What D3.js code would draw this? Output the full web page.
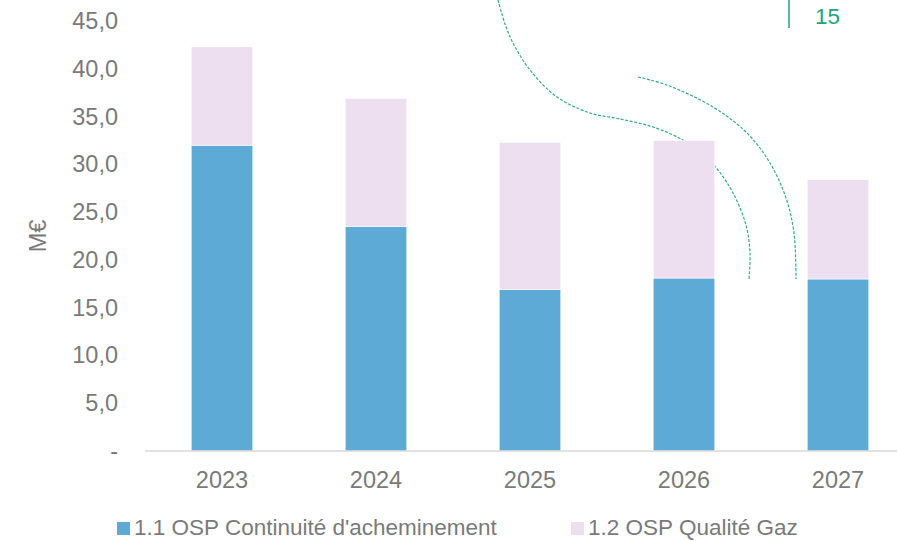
<!DOCTYPE html>
<html>
<head>
<meta charset="utf-8">
<script src="https://cdn.jsdelivr.net/npm/d3@7"></script>
<style>
  html, body { margin: 0; padding: 0; background: #fff; }
  svg { display: block; }
  text { font-family: "Liberation Sans", Arial, sans-serif; }
</style>
</head>
<body>
<svg id="chart" width="897" height="541"></svg>
<script>
// Annual amounts (M€) per public-service obligation
const years = ["2023", "2024", "2025", "2026", "2027"];
const continuite = [32.0, 23.5, 16.9, 18.1, 18.0];
const qualiteGaz = [10.3, 13.4, 15.4, 14.4, 10.4];
const seriesNames = ["1.1 OSP Continuité d'acheminement", "1.2 OSP Qualité Gaz"];
const seriesColors = ["#5eaad6", "#eedff0"];
const yTicks = [0, 5, 10, 15, 20, 25, 30, 35, 40, 45];
const pageNumber = "15";

const svg = d3.select("#chart");
const W = 897, H = 541;
const textColor = "#7a7a7a";
const accent = "#1aa57c";
const fontSize = 23.5;

const x = d3.scaleBand().domain(years).range([145, 915]).paddingInner(0.6).paddingOuter(0.3);
const y = d3.scaleLinear().domain([0, 45]).range([451, 21]);

// Decorative dashed arcs of the page background (drawn beneath the bars)
const deco = svg.append("g").attr("fill", "none").attr("stroke", accent)
  .attr("stroke-width", 1.2).attr("stroke-dasharray", "3,1.6").attr("opacity", 0.9);
const curve = d3.line().curve(d3.curveCatmullRom.alpha(0.5));
deco.append("path").attr("d", curve([[498,0],[505,24],[513,43],[530,70],[557,97],[590,113],[620,119],[653,127],[683,140],[702,154],[718,170],[733,193],[746,225],[750,253],[749,279]]));
deco.append("path").attr("d", curve([[638,77],[667,85],[713,107],[747,133],[770,163],[786,198],[794,233],[796,279]]));

// Page number marker
svg.append("line").attr("x1", 789).attr("x2", 789).attr("y1", 0).attr("y2", 28)
  .attr("stroke", accent).attr("stroke-width", 1.5);
svg.append("text").attr("x", 815).attr("y", 24).attr("font-size", 22.5)
  .attr("fill", accent).text(pageNumber);

// Stacked bars
const rows = years.map((yr, i) => ({ year: yr, s0: continuite[i], s1: qualiteGaz[i] }));
const stacked = d3.stack().keys(["s0", "s1"])(rows);
svg.append("g").selectAll("g").data(stacked).join("g")
  .attr("fill", (d, i) => seriesColors[i])
  .selectAll("rect").data(d => d).join("rect")
  .attr("x", d => x(d.data.year))
  .attr("width", x.bandwidth())
  .attr("y", d => y(d[1]))
  .attr("height", d => y(d[0]) - y(d[1]))
  .attr("stroke", "#ffffff").attr("stroke-width", 0.6);

// Category axis
const xAxis = svg.append("g").attr("transform", `translate(0,${y(0)})`)
  .call(d3.axisBottom(x).tickSize(0).tickPadding(0));
xAxis.select(".domain").attr("d", `M145,0H${W}`).attr("stroke", "#d9d9d9").attr("stroke-width", 1.5);
xAxis.selectAll(".tick text").attr("dy", null).attr("y", 37)
  .attr("font-size", fontSize).attr("fill", textColor)
  .attr("font-family", "'Liberation Sans', Arial, sans-serif");

// Value axis (labels only)
const fmt = v => v === 0 ? "-" : d3.format(".1f")(v).replace(".", ",");
const yAxis = svg.append("g").attr("transform", "translate(118,0)")
  .call(d3.axisLeft(y).tickValues(yTicks).tickFormat(fmt).tickSize(0).tickPadding(0));
yAxis.select(".domain").remove();
yAxis.selectAll(".tick text").attr("font-size", fontSize).attr("fill", textColor)
  .attr("font-family", "'Liberation Sans', Arial, sans-serif");

svg.append("text").attr("transform", "translate(46,236) rotate(-90)")
  .attr("text-anchor", "middle").attr("font-size", fontSize).attr("fill", textColor).text("M€");

// Legend
const legendX = [117, 571];
const legend = svg.append("g").selectAll("g").data(seriesNames).join("g")
  .attr("transform", (d, i) => `translate(${legendX[i]},522)`);
legend.append("rect").attr("width", 13).attr("height", 13).attr("fill", (d, i) => seriesColors[i]);
legend.append("text").attr("x", 17).attr("y", 13).attr("font-size", 22.5)
  .attr("fill", textColor).text(d => d);
</script>
</body>
</html>
